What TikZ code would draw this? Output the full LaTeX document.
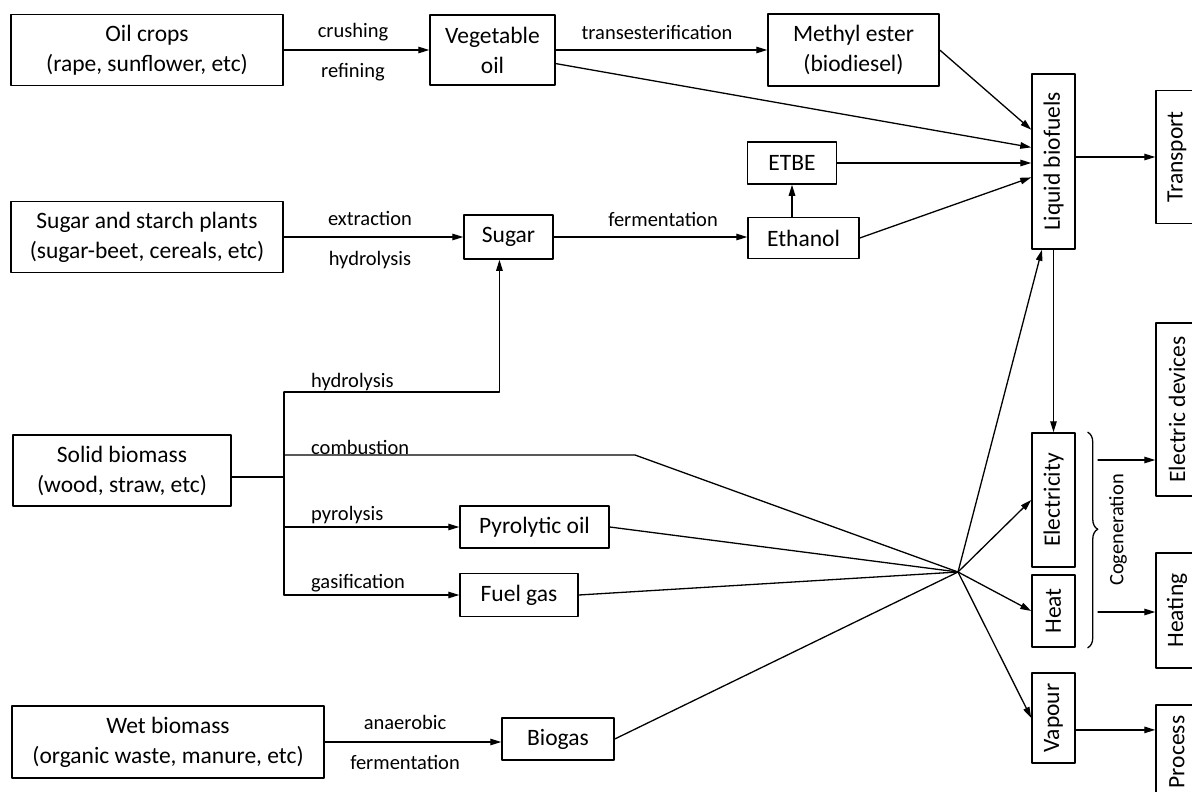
\documentclass[tikz,border=0pt]{standalone}
\usepackage{fontspec}
\setmainfont{Carlito}
\usetikzlibrary{positioning, calc, arrows.meta, decorations.pathreplacing}

\newcommand{\boxfont}{\fontsize{23.5}{30}\selectfont}
\newcommand{\lblfont}{\fontsize{20.5}{24}\selectfont}

\begin{document}
\begin{tikzpicture}[x=1pt,y=-1pt, line cap=round, line join=round,
  box/.style={draw, line width=1.5pt, inner sep=0pt, align=center, font=\boxfont},
  lbl/.style={inner sep=0pt, font=\lblfont},
  line/.style={line width=1.3pt},
  arr/.style={line, -{Triangle[length=11pt,width=6.5pt]}}]

\useasboundingbox (0,0) rectangle (1192,792);

\node[box, minimum width=272, minimum height=71] (oil) at (147,50) {Oil crops\\(rape, sunflower, etc)};
\node[box, minimum width=125, minimum height=70] (veg) at (492.5,50) {Vegetable\\oil};
\node[box, minimum width=171, minimum height=72] (ester) at (853.5,50) {Methyl ester\\(biodiesel)};
\node[box, minimum width=43, minimum height=175] (liquid) at (1053.5,161.5) {\rotatebox{90}{Liquid biofuels}};
\node[box, minimum width=42, minimum height=133] (transport) at (1177,157) {\rotatebox{90}{Transport}};
\node[box, minimum width=89, minimum height=42] (etbe) at (792,163) {ETBE};
\node[box, minimum width=111, minimum height=41] (ethanol) at (803.5,238) {Ethanol};
\node[box, minimum width=272, minimum height=71] (starch) at (147,237) {Sugar and starch plants\\(sugar-beet, cereals, etc)};
\node[box, minimum width=89, minimum height=44] (sugar) at (508.5,237) {Sugar};
\node[box, minimum width=218, minimum height=71] (solid) at (122,470.5) {Solid biomass\\(wood, straw, etc)};
\node[box, minimum width=149, minimum height=42] (pyro) at (534.5,527) {Pyrolytic oil};
\node[box, minimum width=118, minimum height=43] (gas) at (519,595) {Fuel gas};
\node[box, minimum width=312, minimum height=72] (wet) at (168,742) {Wet biomass\\(organic waste, manure, etc)};
\node[box, minimum width=112, minimum height=42] (biogas) at (558,739) {Biogas};
\node[box, minimum width=43, minimum height=134] (elec) at (1053.5,500) {\rotatebox{90}{Electricity}};
\node[box, minimum width=43, minimum height=72] (heat) at (1053.5,611) {\rotatebox{90}{Heat}};
\node[box, minimum width=43, minimum height=90] (vapour) at (1053.5,718) {\rotatebox{90}{Vapour}};
\node[box, minimum width=42, minimum height=173] (devices) at (1177,409.5) {\rotatebox{90}{Electric devices}};
\node[box, minimum width=42, minimum height=115] (heating) at (1177,610.5) {\rotatebox{90}{Heating}};
\node[box, minimum width=42, minimum height=94] (process) at (1177,752) {\rotatebox{90}{Process}};

\node[lbl] (crush) at (353,32) {crushing};
\node[lbl] (refine) at (353,72) {refining};
\node[lbl] (trans) at (657,32) {transesterification};
\node[lbl] (extract) at (370,218) {extraction};
\node[lbl] (hydro) at (370,260) {hydrolysis};
\node[lbl] (ferm) at (663,219) {fermentation};
\node[lbl, anchor=west] (hydro2) at (311,382) {hydrolysis};
\node[lbl, anchor=west] (comb) at (311,447) {combustion};
\node[lbl, anchor=west] (pyrol) at (311,515) {pyrolysis};
\node[lbl, anchor=west] (gasif) at (311,583) {gasification};
\node[lbl] (anaer) at (405,722) {anaerobic};
\node[lbl] (ferm2) at (405,762) {fermentation};
\node[lbl, rotate=90] (cogen) at (1118,530) {Cogeneration};

\coordinate (hub) at (958,572);
\coordinate (split) at (284,477);
\coordinate (ttop) at (284,392);
\coordinate (tbot) at (284,595);
\coordinate (bend) at (635,455);
\coordinate (cog1) at (1098,460);
\coordinate (cog2) at (1098,612);
\coordinate (vapout) at ($(vapour.north east)!0.63!(vapour.south east)$);

\draw[arr] (oil) -- (veg);
\draw[arr] (veg) -- (ester);
\draw[arr] (ester.east) -- ($(liquid.north west)!0.32!(liquid.south west)$);
\draw[arr] ($(veg.north east)!0.69!(veg.south east)$) -- ($(liquid.north west)!0.42!(liquid.south west)$);
\draw[arr] (etbe) -- (etbe -| liquid.west);
\draw[arr] (ethanol.east) -- ($(liquid.north west)!0.59!(liquid.south west)$);
\draw[arr] (ethanol.north -| etbe) -- (etbe.south);
\draw[arr] (liquid.east |- transport) -- (transport.west);
\draw[arr] (starch) -- (starch -| sugar.west);
\draw[arr] (sugar) -- (sugar -| ethanol.west);

\draw[line] (solid.east |- split) -- (split);
\draw[line] (ttop) -- (tbot);
\draw[arr] (ttop) -| ($(sugar.south west)!0.4!(sugar.south east)$);
\draw[line] (ttop |- bend) -- (bend) -- (hub);
\draw[arr] (ttop |- pyro) -- (pyro.west);
\draw[arr] (tbot) -- (gas.west);
\draw[line] (pyro.east) -- (hub);
\draw[line] (gas.east) -- (hub);
\draw[arr] (wet) -- (wet -| biogas.west);
\draw[line] (biogas.east) -- (hub);

\draw[arr] (hub) -- ($(liquid.south west)!0.24!(liquid.south east)$);
\draw[arr] (liquid) -- (elec);
\draw[arr] (hub) -- (elec.west);
\draw[arr] (hub) -- (heat.west);
\draw[arr] (hub) -- (vapour.west);

\draw[line, decorate, decoration={brace, amplitude=10pt, aspect=0.45}] ($(elec.north east)+(12,0)$) -- ($(heat.south east)+(12,0)$);
\draw[arr] (cog1) -- (cog1 -| devices.west);
\draw[arr] (cog2) -- (cog2 -| heating.west);
\draw[arr] (vapout) -- (vapout -| process.west);

\end{tikzpicture}
\end{document}
